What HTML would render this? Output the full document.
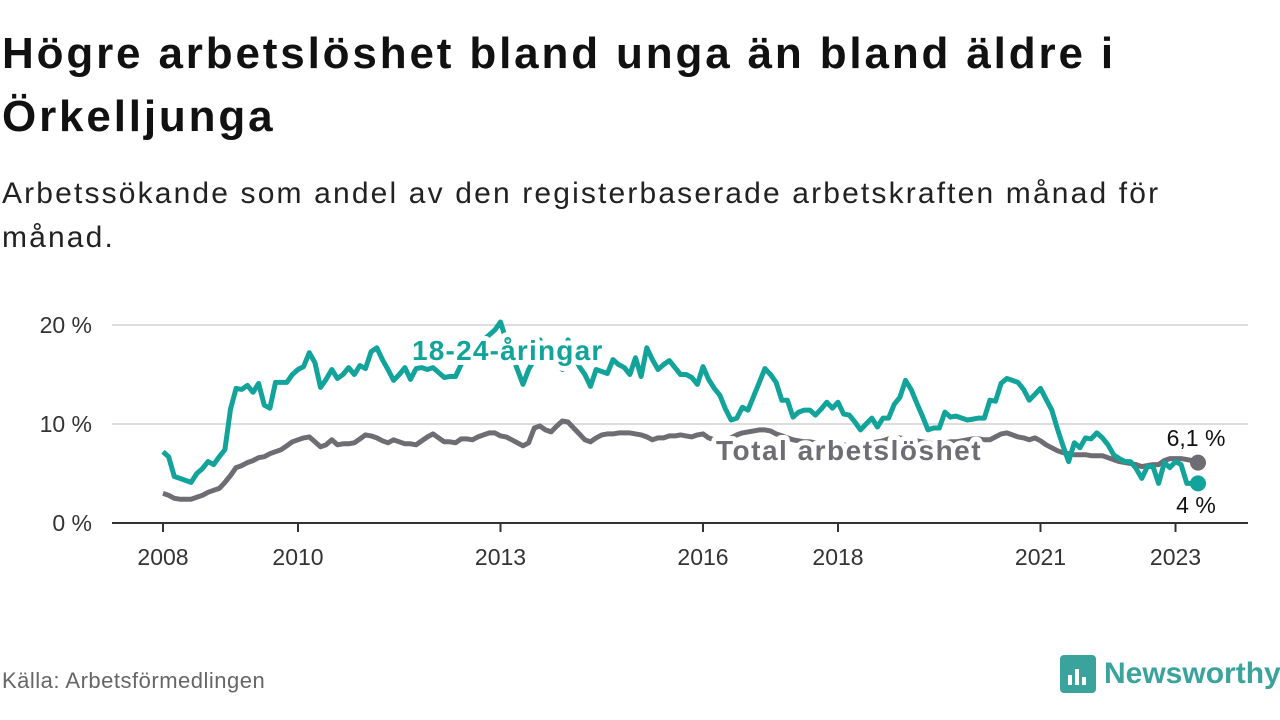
<!DOCTYPE html>
<html><head><meta charset="utf-8"><style>
body{margin:0;width:1280px;height:720px;background:#fff;font-family:"Liberation Sans",sans-serif;overflow:hidden;position:relative;color:#111}
h1{position:absolute;left:2px;top:22px;margin:0;font-size:44px;line-height:63px;font-weight:bold;width:1270px;color:#111;letter-spacing:2.85px;white-space:nowrap}
.sub{position:absolute;left:2px;top:172px;font-size:30px;line-height:44px;color:#222;width:1270px;letter-spacing:2.15px;white-space:nowrap}
.src{position:absolute;left:2px;top:668px;font-size:22px;color:#666;letter-spacing:0.5px}
.logo{position:absolute;left:1060px;top:655px;display:flex;align-items:center}
.logo span{font-size:30px;font-weight:bold;color:#3aa39b;margin-left:8px}
svg{position:absolute;left:0;top:0}
</style></head><body>
<h1>Högre arbetslöshet bland unga än bland äldre i<br>Örkelljunga</h1>
<div class="sub">Arbetssökande som andel av den registerbaserade arbetskraften månad för<br>månad.</div>
<div class="src">Källa: Arbetsförmedlingen</div>
<div class="logo">
<svg width="36" height="38" style="position:static"><rect x="0" y="0" width="36" height="38" rx="4" fill="#3aa39b"/><rect x="8" y="20" width="4" height="10" fill="#fff"/><rect x="15" y="14" width="4" height="16" fill="#fff"/><rect x="22" y="22" width="4" height="8" fill="#fff"/></svg>
<span>Newsworthy</span></div>
<svg id="chart" width="1280" height="720"></svg>
<script>
const yTicks=[0,10,20];
const yTickLabels=["0 %","10 %","20 %"];
const xTickYears=[2008,2010,2013,2016,2018,2021,2023];
const total=[3.0,2.8,2.5,2.4,2.4,2.4,2.6,2.8,3.1,3.3,3.5,4.1,
4.8,5.6,5.8,6.1,6.3,6.6,6.7,7.0,7.2,7.4,7.8,8.2,
8.4,8.6,8.7,8.2,7.7,7.9,8.4,7.9,8.0,8.0,8.1,8.5,
8.9,8.8,8.6,8.3,8.1,8.4,8.2,8.0,8.0,7.9,8.3,8.7,
9.0,8.6,8.2,8.2,8.1,8.5,8.5,8.4,8.7,8.9,9.1,9.1,
8.8,8.7,8.4,8.1,7.8,8.1,9.6,9.8,9.4,9.2,9.8,10.3,
10.2,9.6,9.0,8.4,8.2,8.6,8.9,9.0,9.0,9.1,9.1,9.1,
9.0,8.9,8.7,8.4,8.6,8.6,8.8,8.8,8.9,8.8,8.7,8.9,
9.0,8.6,8.4,8.2,8.3,8.6,8.9,9.1,9.2,9.3,9.4,9.4,
9.3,9.0,8.8,8.6,8.4,8.3,8.2,8.2,8.1,8.0,8.1,8.2,
8.0,7.9,7.8,7.8,7.9,8.0,8.1,8.2,8.3,8.5,8.6,8.6,
8.5,8.4,8.3,8.2,8.1,8.0,8.0,8.1,8.2,8.2,8.3,8.4,
8.5,8.5,8.4,8.4,8.7,9.0,9.1,8.9,8.7,8.6,8.4,8.6,
8.3,7.9,7.6,7.3,7.1,7.0,6.9,6.9,6.9,6.8,6.8,6.8,
6.6,6.4,6.2,6.1,6.0,5.9,5.7,5.8,5.9,5.9,6.3,6.5,
6.5,6.5,6.4,6.3,6.1];
const youth=[7.2,6.7,4.7,4.5,4.3,4.1,5.0,5.5,6.2,5.9,6.7,7.4,
11.5,13.6,13.5,13.9,13.2,14.1,11.9,11.6,14.2,14.2,14.2,15.0,
15.5,15.8,17.2,16.2,13.7,14.5,15.5,14.6,15.0,15.7,15.0,15.9,
15.6,17.3,17.7,16.5,15.5,14.4,15.0,15.7,14.5,15.6,15.7,15.5,
15.7,15.2,14.7,14.8,14.8,16.0,17.0,18.0,17.5,18.5,19.0,19.5,
20.3,18.5,17.0,15.5,14.0,15.5,16.5,18.5,17.5,18.0,16.0,15.5,
18.5,17.0,15.8,15.0,13.8,15.5,15.3,15.1,16.5,16.0,15.7,15.0,
16.7,14.8,17.7,16.5,15.5,16.0,16.4,15.7,15.0,15.0,14.7,14.0,
15.8,14.5,13.6,12.9,11.5,10.4,10.6,11.7,11.4,12.8,14.2,15.6,
15.0,14.2,12.4,12.4,10.7,11.2,11.4,11.4,10.9,11.5,12.2,11.6,
12.2,11.0,10.9,10.2,9.4,10.0,10.6,9.7,10.6,10.6,12.0,12.7,
14.4,13.5,12.1,10.8,9.4,9.6,9.6,11.2,10.7,10.8,10.6,10.4,
10.5,10.6,10.6,12.4,12.3,14.1,14.6,14.4,14.2,13.5,12.4,13.0,
13.6,12.5,11.4,9.5,7.8,6.2,8.1,7.6,8.6,8.5,9.1,8.6,
7.9,6.9,6.5,6.2,6.2,5.5,4.5,5.7,5.7,4.0,6.1,5.6,
6.2,5.9,4.0,4.0,4.0];
const startYear=2008;
const NS='http://www.w3.org/2000/svg';
const svg=document.getElementById('chart');
const X0=112,X1=1248,Y0=523;
function xm(m){return 163+m*67.5/12;}
function xy(yr){return xm((yr-startYear)*12);}
function ys(v){return Y0-v*9.9;}
function mk(t,a,txt){const e=document.createElementNS(NS,t);for(const k in a)e.setAttribute(k,a[k]);if(txt!==undefined)e.textContent=txt;svg.appendChild(e);return e;}
yTicks.forEach((v,i)=>{
 if(v>0){const g=mk('line',{x1:X0,x2:X1,y1:ys(v),y2:ys(v),stroke:'#ddd','stroke-width':2});
 
 }
 const t=mk('text',{x:92,y:ys(v)+8,'text-anchor':'end','font-size':23,fill:'#333'},yTickLabels[i]);
 
 
});
xTickYears.forEach(yr=>{
 const l=mk('line',{x1:xy(yr),x2:xy(yr),y1:Y0,y2:Y0+9,stroke:'#333','stroke-width':2});
 
 
 const t=mk('text',{x:xy(yr),y:Y0+42,'text-anchor':'middle','font-size':23,fill:'#333'},String(yr));
 
 
});
const ax=mk('line',{x1:X0,x2:X1,y1:Y0,y2:Y0,stroke:'#333','stroke-width':2});


function path(arr){return arr.map((v,i)=>(i?'L':'M')+xm(i).toFixed(1)+','+ys(v).toFixed(1)).join('');}
const pt=mk('path',{d:path(total),fill:'none',stroke:'#6e6d73','stroke-width':5,'stroke-linejoin':'round'});


const py=mk('path',{d:path(youth),fill:'none',stroke:'#12a39a','stroke-width':5,'stroke-linejoin':'round'});


const lt=total.length-1,ly=youth.length-1;
const d1=mk('circle',{cx:xm(lt),cy:ys(total[lt]),r:8,fill:'#6e6d73'});


const d2=mk('circle',{cx:xm(ly),cy:ys(youth[ly]),r:8,fill:'#12a39a'});


const halo={stroke:'#fff','stroke-width':10,'paint-order':'stroke','stroke-linejoin':'round'};
const l1=mk('text',Object.assign({x:412,y:360,'font-size':28,'font-weight':'bold',fill:'#12a39a','letter-spacing':'1.2'},halo),'18-24-åringar');


const l2=mk('text',Object.assign({x:716,y:460,'font-size':28,'font-weight':'bold',fill:'#6e6d73','letter-spacing':'1.5'},halo),'Total arbetslöshet');


const v1=mk('text',Object.assign({x:1196,y:446,'text-anchor':'middle','font-size':23,fill:'#111'},halo),total[lt].toFixed(1).replace('.',',')+' %');


const v2=mk('text',Object.assign({x:1196,y:513,'text-anchor':'middle','font-size':23,fill:'#111'},halo),String(youth[ly]).replace('.',',')+' %');


</script>
</body></html>
